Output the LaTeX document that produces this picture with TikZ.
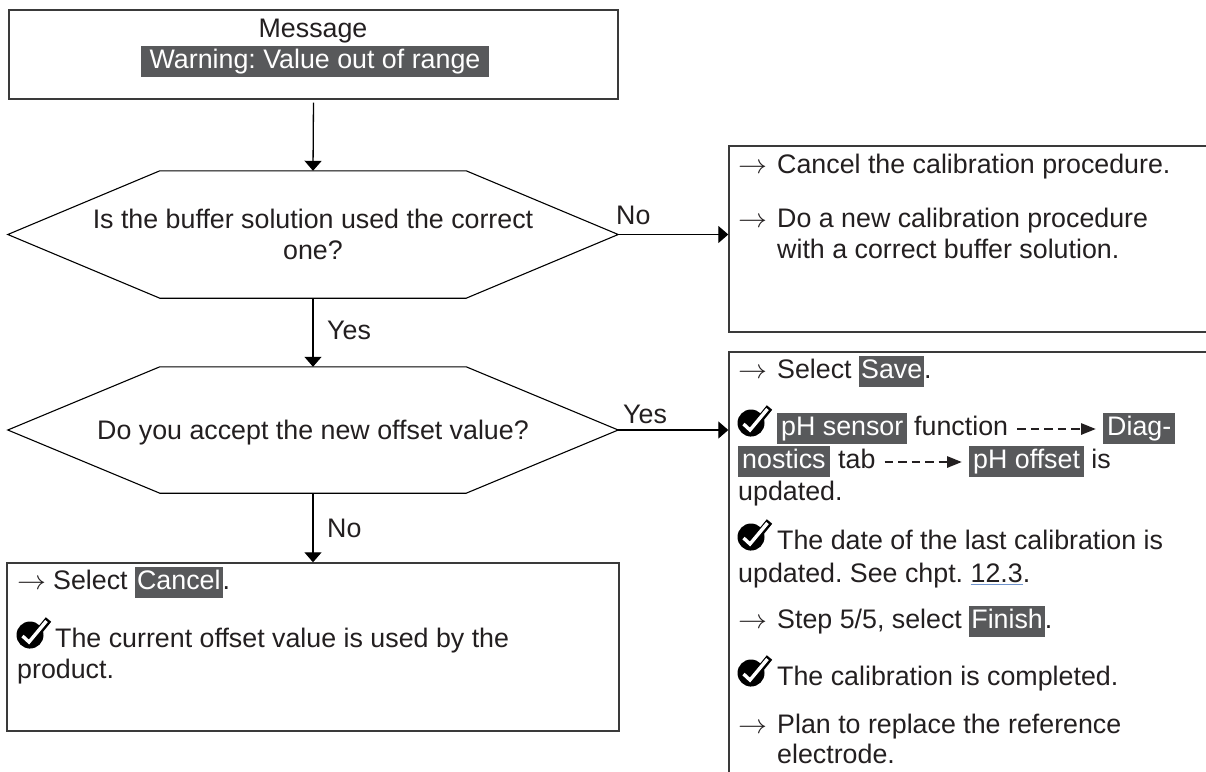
\RequirePackage{fix-cm}
\documentclass[tikz,border=0pt]{standalone}
\usepackage{fontspec}
\setmainfont{Liberation Sans}
\usetikzlibrary{arrows.meta,calc}
\definecolor{txtc}{HTML}{231F20}
\definecolor{hlgray}{HTML}{58595B}
\definecolor{lnkblue}{HTML}{6F93CC}
\definecolor{boxline}{HTML}{3A3A3A}
\newcommand\fs{\fontsize{26.8}{32}\selectfont\frenchspacing}
\newcommand\hlbox[2][2pt]{{\setlength{\fboxsep}{0pt}\colorbox{hlgray}{\rule[-9pt]{0pt}{31pt}\kern#1\textcolor{white}{#2}\kern#1}}}
\newcommand\lnkul[1]{{\setbox0\hbox{#1}\rlap{\textcolor{lnkblue}{\rule[-3pt]{\wd0}{1.3pt}}}\box0}}
\newcommand\rarr{\scalebox{1.08}[1]{$\rightarrow$}}
\begin{document}
\begin{tikzpicture}[x=1pt,y=-1pt,
  txt/.style={inner sep=0pt, anchor=base west, text=txtc, font=\fs},
  ctxt/.style={inner sep=0pt, anchor=base, text=txtc, font=\fs},
  boxnode/.style={draw=boxline, line width=1.4pt, inner sep=0pt},
  hexframe/.style={draw=black, line width=1.1pt, line join=miter},
  conn/.style={draw=black, line width=1.3pt, -{Triangle[length=10pt,width=17pt]}},
  dasharrow/.style={draw=txtc, line width=2.9pt, dash pattern=on 8.5pt off 5pt, -{Triangle[length=15pt,width=11pt]}},
  chk/.pic={
    \fill[black] (13,-12) circle[radius=13.5pt];
    \draw[black, line width=7pt, line join=miter, line cap=butt] (4.5,-11) -- (12,-3.5) -- (31.5,-27.5);
    \draw[white, line width=3.4pt, line join=miter, line cap=butt] (5.5,-11) -- (12,-5) -- (29.5,-26);
  }]
\clip (0,0) rectangle (1206,771);
\fill[white] (0,0) rectangle (1206,771);

% ---- top message box
\node[boxnode, minimum width=609pt, minimum height=89pt] (msg) at (313.5,54.5) {};
\node[ctxt] (msgt) at (313,37) {Message};
\node[ctxt] (warn) at (315,68) {\hlbox[9pt]{Warning: Value out of range}};

% ---- decision 1
\node[inner sep=0pt, minimum width=610pt, minimum height=127pt] (h1) at (313,234.5) {};
\draw[hexframe] ($(h1.north west)+(152,0)$) -- ($(h1.north east)+(-152,0)$) -- (h1.east)
  -- ($(h1.south east)+(-152,0)$) -- ($(h1.south west)+(152,0)$) -- (h1.west) -- cycle;
\node[ctxt] (h1a) at (313,228) {Is the buffer solution used the correct};
\node[ctxt] (h1b) at (313,259) {one?};

% ---- decision 2
\node[inner sep=0pt, minimum width=610pt, minimum height=126pt] (h2) at (313,430) {};
\draw[hexframe] ($(h2.north west)+(152,0)$) -- ($(h2.north east)+(-152,0)$) -- (h2.east)
  -- ($(h2.south east)+(-152,0)$) -- ($(h2.south west)+(152,0)$) -- (h2.west) -- cycle;
\node[ctxt] (h2a) at (313,439) {Do you accept the new offset value?};

% ---- right box 1
\node[boxnode, minimum width=486pt, minimum height=186pt] (r1) at (972,239) {};
\node[txt] (r1a0) at (738,173) {\rarr};
\node[txt] (r1a) at (777,173) {Cancel the calibration procedure.};
\node[txt] (r1b0) at (738,227) {\rarr};
\node[txt] (r1b) at (777,227) {Do a new calibration procedure};
\node[txt] (r1c) at (777,258) {with a correct buffer solution.};

% ---- right box 2
\node[boxnode, minimum width=486pt, minimum height=440pt] (r2) at (972,572) {};
\node[txt] (s0) at (738,378) {\rarr};
\node[txt] (s1) at (777,378) {Select \hlbox{Save}.};
\pic at (738,435) {chk};
\node[txt] (ps) at (777,435) {\hlbox[4pt]{pH sensor}};
\node[txt] (fn) at (914,435) {function};
\node[txt] (dg) at (1103,435) {\hlbox[4pt]{Diag-}};
\node[txt] (ns) at (738,468) {\hlbox[4pt]{nostics}};
\node[txt] (tb) at (838,468) {tab};
\node[txt] (po) at (969,468) {\hlbox[4pt]{pH offset} is};
\node[txt] (up1) at (738,500) {updated.};
\pic at (738,549) {chk};
\node[txt] (dt) at (777,549) {The date of the last calibration is};
\node[txt] (up2) at (738,582) {updated. See chpt. \lnkul{12.3}.};
\node[txt] (st0) at (738,628) {\rarr};
\node[txt] (st) at (777,628) {Step 5/5, select \hlbox{Finish}.};
\pic at (738,685) {chk};
\node[txt] (cp) at (777,685) {The calibration is completed.};
\node[txt] (pl0) at (738,733) {\rarr};
\node[txt] (pl) at (777,733) {Plan to replace the reference};
\node[txt] (el) at (777,763) {electrode.};
\draw[dasharrow] ($(fn.base east)+(9,-6)$) -- ($(dg.base west)+(-7,-6)$);
\draw[dasharrow] ($(tb.base east)+(9,-6)$) -- ($(po.base west)+(-7,-6)$);

% ---- bottom left box
\node[boxnode, minimum width=612pt, minimum height=168pt] (b) at (313,647) {};
\node[txt] (b0) at (17,589) {\rarr};
\node[txt] (b1) at (53,589) {Select \hlbox{Cancel}.};
\pic at (17,647) {chk};
\node[txt] (b2) at (55,647) {The current offset value is used by the};
\node[txt] (b3) at (17,678) {product.};

% ---- connectors
\draw[conn, shorten <=3pt] (msg.south) -- (h1.north);
\draw[conn] (h1.east) -- (h1.east -| r1.west);
\node[txt] (lno1) at (616,224) {No};
\draw[conn] (h1.south) -- (h2.north);
\node[txt] (lyes1) at (327,339) {Yes};
\draw[conn] (h2.east) -- (h2.east -| r2.west);
\node[txt] (lyes2) at (623,423) {Yes};
\draw[conn] (h2.south) -- (b.north);
\node[txt] (lno2) at (327,537) {No};
\end{tikzpicture}
\end{document}
